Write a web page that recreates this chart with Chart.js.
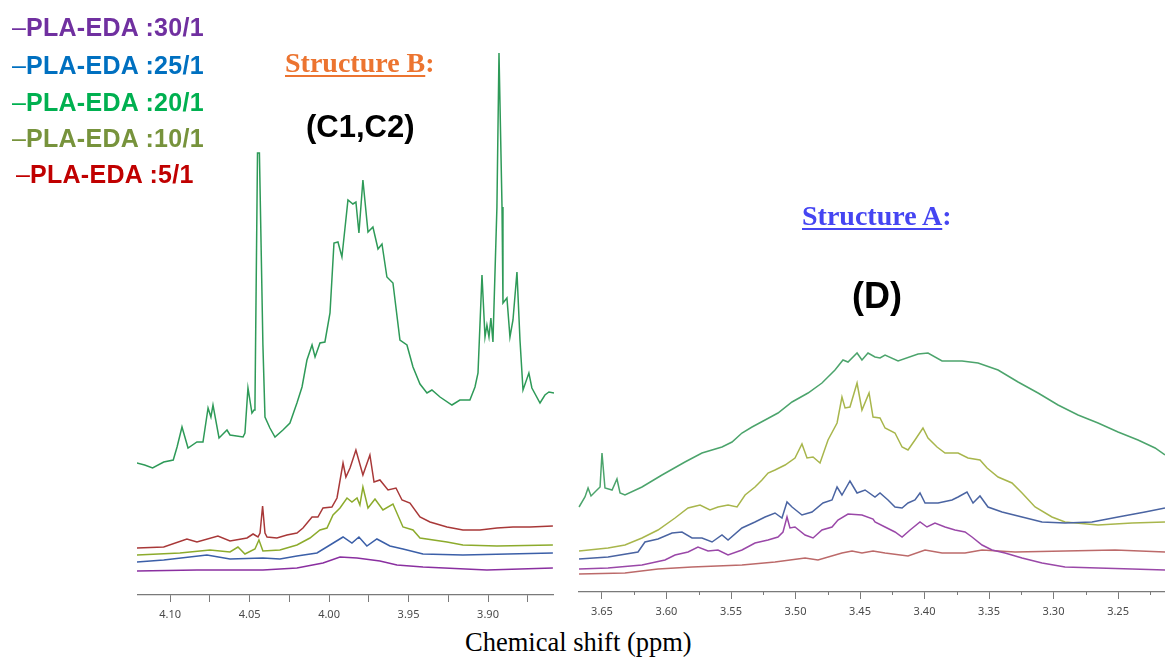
<!DOCTYPE html>
<html>
<head>
<meta charset="utf-8">
<script src="https://cdn.jsdelivr.net/npm/chart.js@4.4.1/dist/chart.umd.min.js"></script>
<style>
  body { margin: 0; width: 1165px; height: 662px; background: #fff; position: relative; overflow: hidden; }
  .box { position: absolute; }
  .txt { position: absolute; white-space: nowrap; line-height: 1; }
  .legend-row { position: absolute; white-space: nowrap; line-height: 1; letter-spacing: 0.3px; font: bold 25px "Liberation Sans", Arial, sans-serif; }
  .legend-row .dash { font-weight: normal; letter-spacing: 0; }
  .title { font: bold 28px "Liberation Serif", "Times New Roman", serif; }
  .title u { text-decoration-thickness: 2px; text-underline-offset: 3px; }
  .peak { font: bold 31px "Liberation Sans", Arial, sans-serif; color: #000; }
</style>
</head>
<body>
<div class="box" style="left:137px; top:40px;"><canvas id="leftChart" width="417" height="585"></canvas></div>
<div class="box" style="left:578px; top:40px;"><canvas id="rightChart" width="587" height="582"></canvas></div>

<div id="legend"></div>
<div class="txt title" style="left:285px; top:47px; color:#ec7430;"><u>Structure B</u>:</div>
<div class="txt peak" style="left:306px; top:109px;">(C1,C2)</div>
<div class="txt title" style="left:802px; top:200px; color:#4545f2;"><u>Structure A</u>:</div>
<div class="txt peak" style="left:852px; top:275px; font-size:36px;">(D)</div>
<div class="txt" style="left:465px; top:627px; font: 26.5px 'Liberation Serif', 'Times New Roman', serif; color:#000;">Chemical shift (ppm)</div>

<script>
// series, top of the legend first
const seriesLabels = ['PLA-EDA :30/1', 'PLA-EDA :25/1', 'PLA-EDA :20/1', 'PLA-EDA :10/1', 'PLA-EDA :5/1'];
const legendColors = ['#7030a0', '#0070c0', '#00b050', '#77933c', '#c00000'];
const leftLineColors = ['#8a2fa0', '#3b5fa8', '#2e9a58', '#8cab2c', '#a83838'];
const rightLineColors = ['#9a48a8', '#4a64a2', '#4ca46c', '#a8b64c', '#bc6a6a'];

// axis ticks (ppm) and their labels, '' = minor tick
const leftTickValues = [4.10, 4.075, 4.05, 4.025, 4.00, 3.975, 3.95, 3.925, 3.90, 3.875];
const leftTickLabels = ['4.10', '', '4.05', '', '4.00', '', '3.95', '', '3.90', ''];
const rightTickValues = [3.65, 3.625, 3.60, 3.575, 3.55, 3.525, 3.50, 3.475, 3.45, 3.425, 3.40, 3.375, 3.35, 3.325, 3.30, 3.275, 3.25, 3.225];
const rightTickLabels = ['3.65', '', '3.60', '', '3.55', '', '3.50', '', '3.45', '', '3.40', '', '3.35', '', '3.30', '', '3.25', ''];

// left panel (4.12 - 3.86 ppm): [shift, intensity]
const left30 = [[4.121,24],[4.0831,25],[4.0416,25],[4.0202,27],[4.0038,32],[3.9931,38],[3.9824,37],[3.968,34],[3.9573,30],[3.9409,28],[3.9007,25],[3.8592,27]];
const left25 = [[4.121,33],[4.104,35],[4.0768,40],[4.0623,36],[4.0416,37],[4.0309,36],[4.0202,39],[4.0076,42],[3.9994,50],[3.9912,58],[3.9856,52],[3.9812,58],[3.9762,49],[3.9699,56],[3.9617,49],[3.9535,46],[3.9409,41],[3.9158,40],[3.8592,42]];
const left20 = [[4.121,132],[4.116,130],[4.111,127],[4.104,133],[4.098,135],[4.0956,148],[4.0925,168],[4.0887,147],[4.0831,153],[4.0793,153],[4.0761,187],[4.0743,178],[4.073,190],[4.0692,157],[4.0642,165],[4.0623,160],[4.0541,158],[4.0529,162],[4.051,207],[4.0485,182],[4.0472,185],[4.0466,190],[4.045,442],[4.0438,442],[4.0416,250],[4.0403,178],[4.0372,167],[4.034,158],[4.029,165],[4.0246,172],[4.0202,192],[4.017,208],[4.0139,235],[4.0107,250],[4.0088,238],[4.0057,252],[4.0026,253],[3.9994,282],[3.9969,352],[3.9944,353],[3.9919,338],[3.9881,395],[3.985,391],[3.9831,393],[3.9812,362],[3.9787,415],[3.9755,363],[3.9724,368],[3.9692,346],[3.9667,351],[3.9636,318],[3.9598,312],[3.9554,255],[3.951,250],[3.9472,228],[3.9428,211],[3.9384,202],[3.9353,205],[3.9302,198],[3.9227,190],[3.9177,195],[3.9114,195],[3.9082,208],[3.9063,222],[3.9038,320],[3.9019,258],[3.9007,270],[3.8994,258],[3.8982,277],[3.8969,253],[3.8944,388],[3.8931,542],[3.8912,388],[3.8906,292],[3.8881,297],[3.8862,258],[3.8843,275],[3.8818,323],[3.8799,255],[3.878,205],[3.8743,222],[3.8724,207],[3.8673,192],[3.8642,200],[3.8617,203],[3.8585,202]];
const left10 = [[4.121,40],[4.0938,42],[4.0749,45],[4.0623,43],[4.0573,48],[4.0529,41],[4.0466,46],[4.0441,55],[4.0416,44],[4.0309,45],[4.0202,50],[4.012,57],[4.0057,65],[4.0013,67],[3.9975,80],[3.9931,87],[3.9887,97],[3.9856,93],[3.9824,97],[3.9806,90],[3.9787,108],[3.9755,87],[3.9711,96],[3.9661,85],[3.9598,91],[3.9535,68],[3.9472,65],[3.9428,57],[3.9258,53],[3.9158,50],[3.8944,49],[3.8592,50]];
const left5 = [[4.121,47],[4.104,48],[4.0894,56],[4.0831,53],[4.0699,59],[4.0623,54],[4.0516,57],[4.0478,61],[4.0447,58],[4.0434,62],[4.0418,89],[4.0403,62],[4.039,58],[4.0328,57],[4.0265,60],[4.0202,62],[4.0164,67],[4.0107,78],[4.007,78],[4.0038,87],[3.9982,88],[3.995,97],[3.9912,132],[3.9894,118],[3.9868,127],[3.9831,145],[3.9787,120],[3.9743,140],[3.9717,113],[3.968,115],[3.9629,105],[3.9579,107],[3.9541,95],[3.9491,92],[3.9428,78],[3.9365,73],[3.9258,68],[3.9158,65],[3.9051,65],[3.8944,67],[3.8843,68],[3.8736,68],[3.8592,69]];

// right panel (3.67 - 3.21 ppm)
const right30 = [[3.6678,23],[3.6453,24],[3.619,27],[3.6012,32],[3.5934,37],[3.5833,40],[3.5756,45],[3.5678,41],[3.5601,42],[3.5523,37],[3.5415,42],[3.5314,49],[3.5213,52],[3.5136,55],[3.5097,60],[3.5066,75],[3.5043,64],[3.5004,65],[3.4926,57],[3.4864,54],[3.4795,62],[3.4717,65],[3.4671,72],[3.4593,78],[3.4485,77],[3.4399,73],[3.4384,70],[3.4306,65],[3.4229,60],[3.4174,55],[3.4112,62],[3.4035,70],[3.3981,65],[3.3919,69],[3.3841,65],[3.3764,62],[3.3686,60],[3.3632,55],[3.3554,47],[3.3477,42],[3.3376,39],[3.3244,34],[3.3089,29],[3.2911,25],[3.2655,24],[3.2391,23],[3.2136,22]];
const right25 = [[3.6678,33],[3.6453,35],[3.6221,40],[3.6167,50],[3.6066,53],[3.5957,59],[3.588,60],[3.5802,54],[3.5725,54],[3.5647,50],[3.557,57],[3.5523,52],[3.5415,64],[3.5314,70],[3.5236,75],[3.5159,79],[3.5105,74],[3.5066,90],[3.5027,85],[3.495,77],[3.4872,80],[3.4787,89],[3.4717,92],[3.4678,105],[3.464,97],[3.4578,111],[3.4523,99],[3.4461,102],[3.4384,95],[3.4345,99],[3.4283,92],[3.4229,85],[3.4174,84],[3.4128,89],[3.4074,92],[3.4035,99],[3.3996,89],[3.3895,89],[3.3787,92],[3.374,95],[3.3671,100],[3.3624,89],[3.357,96],[3.3508,85],[3.3399,80],[3.3244,75],[3.3089,70],[3.2911,69],[3.2702,70],[3.25,75],[3.2291,80],[3.2136,84]];
const right20 = [[3.6678,85],[3.6632,95],[3.6608,104],[3.6585,96],[3.6539,102],[3.6515,105],[3.65,139],[3.6477,104],[3.6422,102],[3.6384,113],[3.636,99],[3.6322,97],[3.619,105],[3.6035,117],[3.5857,130],[3.5725,139],[3.557,145],[3.5492,150],[3.5415,159],[3.5337,165],[3.5236,172],[3.5136,179],[3.5027,190],[3.4903,199],[3.4795,209],[3.4694,222],[3.4632,232],[3.4593,230],[3.4523,239],[3.4485,232],[3.4438,239],[3.4384,235],[3.4345,234],[3.4306,237],[3.4205,231],[3.405,238],[3.3973,239],[3.3864,231],[3.3709,231],[3.3585,229],[3.343,222],[3.3275,210],[3.312,199],[3.2965,187],[3.281,177],[3.2655,169],[3.25,160],[3.2345,152],[3.2213,144],[3.2136,137]];
const right10 = [[3.6678,41],[3.6453,44],[3.6322,47],[3.619,54],[3.6066,62],[3.5934,74],[3.5833,84],[3.574,87],[3.5663,82],[3.5601,85],[3.5523,87],[3.5453,85],[3.5391,97],[3.5314,105],[3.526,112],[3.5213,119],[3.5159,122],[3.5081,127],[3.5004,134],[3.495,148],[3.4911,134],[3.4864,135],[3.481,129],[3.4748,152],[3.4678,169],[3.464,195],[3.4616,184],[3.4578,185],[3.4523,209],[3.4485,182],[3.443,199],[3.4399,175],[3.4345,174],[3.4306,164],[3.4229,159],[3.4174,145],[3.4128,142],[3.4074,152],[3.4012,164],[3.3973,154],[3.3903,145],[3.3841,139],[3.374,139],[3.3663,134],[3.357,132],[3.3515,124],[3.343,115],[3.3322,109],[3.3244,99],[3.3143,85],[3.3012,75],[3.2911,70],[3.2655,67],[3.2391,69],[3.2136,70]];
const right5 = [[3.6678,18],[3.6322,19],[3.6066,23],[3.5802,25],[3.5415,27],[3.5159,30],[3.4926,34],[3.4826,32],[3.464,39],[3.4562,41],[3.4485,39],[3.4399,41],[3.4306,39],[3.4128,36],[3.3996,42],[3.3864,39],[3.3686,39],[3.3554,42],[3.3298,40],[3.2911,41],[3.2523,42],[3.2136,40]];

// legend text (html)
const legendTops = [13, 51, 88, 124, 160];
const legendLefts = [12, 12, 12, 12, 16];
const legendEl = document.getElementById('legend');
seriesLabels.forEach((name, i) => {
  const row = document.createElement('div');
  row.className = 'legend-row';
  row.style.left = legendLefts[i] + 'px';
  row.style.top = legendTops[i] + 'px';
  row.style.color = legendColors[i];
  row.innerHTML = '<span class="dash">\u2013</span>' + name;
  legendEl.appendChild(row);
});

// short minor ticks for the right axis
const minorTicks = {
  id: 'minorTicks',
  afterDraw(chart, args, opts) {
    if (!opts.show) return;
    const x = chart.scales.x, ctx = chart.ctx;
    ctx.save();
    ctx.strokeStyle = '#7a7a7a';
    ctx.lineWidth = 1;
    x.ticks.forEach((t, i) => {
      if (opts.labels[i]) return;
      const px = Math.round(x.getPixelForValue(t.value)) + 0.5;
      ctx.beginPath();
      ctx.moveTo(px, x.top);
      ctx.lineTo(px, x.top + 3);
      ctx.stroke();
    });
    ctx.restore();
  }
};

function makeChart(id, series, colors, xMin, xMax, yMax, tickValues, tickLabels, shortMinor) {
  new Chart(document.getElementById(id), {
    type: 'line',
    data: {
      datasets: series.map((s, i) => ({
        label: seriesLabels[i],
        data: s,
        borderColor: colors[i],
        borderWidth: 1.5,
        pointRadius: 0,
        tension: 0,
        fill: false
      }))
    },
    options: {
      responsive: false,
      animation: false,
      events: [],
      layout: { padding: 0 },
      plugins: {
        legend: { display: false },
        tooltip: { enabled: false },
        minorTicks: { show: shortMinor, labels: tickLabels }
      },
      scales: {
        x: {
          type: 'linear',
          reverse: true,
          min: xMin,
          max: xMax,
          afterBuildTicks: s => { s.ticks = tickValues.map(v => ({ value: v })); },
          afterFit: s => { s.height = 30; s.paddingLeft = 0; s.paddingRight = 0; },
          grid: {
            drawOnChartArea: false,
            drawTicks: true,
            tickLength: 7,
            tickColor: c => (shortMinor && !tickLabels[c.index]) ? 'rgba(0,0,0,0)' : '#7a7a7a'
          },
          border: { display: true, color: '#7a7a7a', width: 1.2 },
          ticks: {
            autoSkip: false,
            maxRotation: 0,
            padding: 6,
            color: '#4a4a4a',
            font: { family: '"Noto Sans", "Open Sans", sans-serif', size: 11 },
            callback: (v, i) => tickLabels[i]
          }
        },
        y: { display: false, min: 0, max: yMax }
      }
    },
    plugins: [minorTicks]
  });
}

makeChart('leftChart', [left30, left25, left20, left10, left5], leftLineColors,
  3.8585, 4.1208, 555, leftTickValues, leftTickLabels, false);
makeChart('rightChart', [right30, right25, right20, right10, right5], rightLineColors,
  3.2136, 3.6686, 552, rightTickValues, rightTickLabels, true);
</script>
</body>
</html>
